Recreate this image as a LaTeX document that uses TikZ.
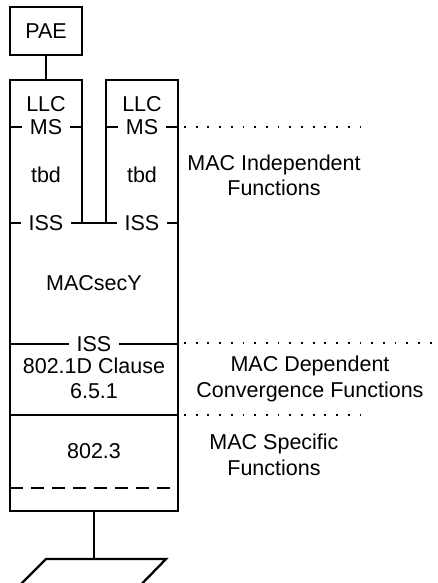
\documentclass[tikz,border=0pt]{standalone}
\usepackage{fontspec}
\setmainfont{Liberation Sans}
\begin{document}
\begin{tikzpicture}[x=1pt,y=-1pt,line width=2.3pt,
    every node/.style={font=\fontsize{21.5}{25.5}\selectfont},
    lbl/.style={fill=white,inner xsep=8pt,inner ysep=0pt},
    sep/.style={line width=1.8pt,dash pattern=on 1.8pt off 9.9pt},
    txt/.style={align=center}]
  \useasboundingbox (0,0) rectangle (437,583);
  \clip (0,0) rectangle (437,583);
  % PAE on top of the left column
  \node[draw,minimum width=72,minimum height=48] (pae) at (46,31) {PAE};
  \coordinate (llctop) at (46,80);
  \draw (pae) -- (llctop);
  % the stack
  \draw (82,223) -- (82,80) -- (10,80) -- (10,511) -- (178,511) -- (178,80) -- (106,80) -- (106,223);
  \node (llcA) at (46,104) {LLC};
  \node (llcB) at (142,104) {LLC};
  \draw (10,127) -- (82,127) node[lbl,midway] (msA) {MS};
  \draw (106,127) -- (178,127) node[lbl,midway] (msB) {MS};
  \node (tbdA) at (46,175) {tbd};
  \node (tbdB) at (142,175) {tbd};
  \draw (10,223) -- (178,223);
  \node[lbl] (issA) at (46,223) {ISS};
  \node[lbl] (issB) at (142,223) {ISS};
  \node (secy) at (94,283) {MACsecY};
  \draw (10,344) -- (178,344) node[lbl,midway] (issC) {ISS};
  \node[txt] (conv) at (94,378.5) {802.1D Clause\\6.5.1};
  \draw (10,415) -- (178,415);
  \node (phy) at (94,451) {802.3};
  \draw[dash pattern=on 13pt off 8pt] (10,488) -- (178,488);
  % medium
  \coordinate (stackbot) at (94,511);
  \coordinate (lan) at (94,559);
  \draw (stackbot) -- (lan);
  \draw (10,595) -- (46,559) -- (166,559) -- (131,595);
  % layer boundaries and names
  \draw[sep] (184,127) -- (362,127);
  \draw[sep] (184,343) -- (437,343);
  \draw[sep] (184,415) -- (362,415);
  \node[txt] (indep) at (274,175.5) {MAC Independent\\Functions};
  \node[txt] (dep) at (310,379) {MAC Dependent\\Convergence Functions};
  \node[txt] (spec) at (274,455) {MAC Specific\\Functions};
\end{tikzpicture}
\end{document}
